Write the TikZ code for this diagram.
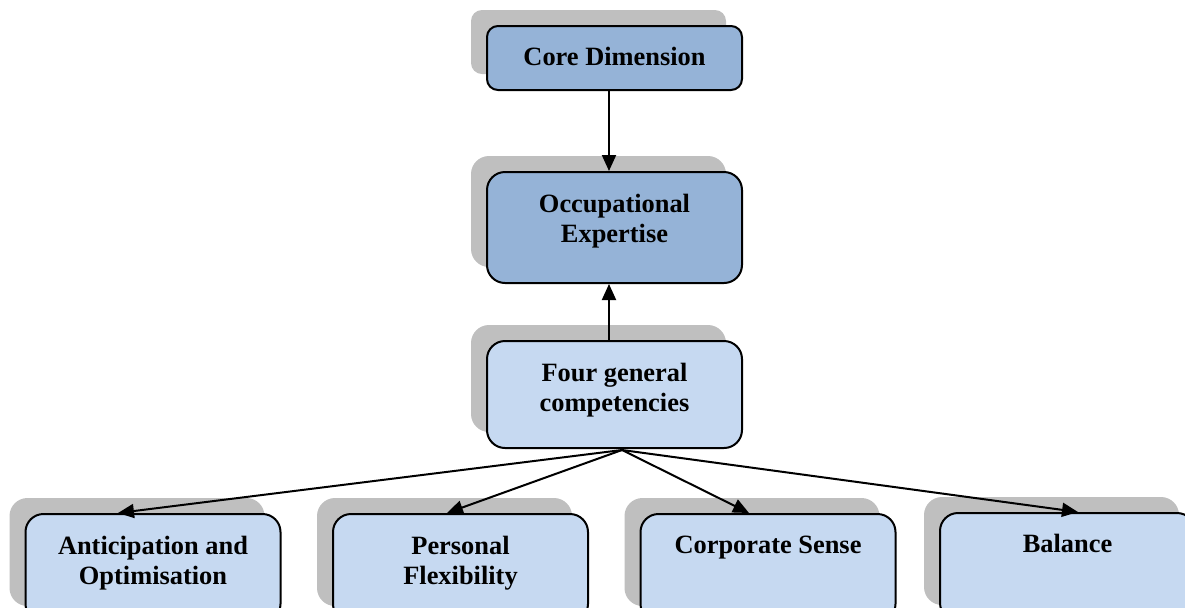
\documentclass[tikz,border=0pt]{standalone}
\usepackage{fontspec}
\setmainfont{Liberation Serif}
\usetikzlibrary{arrows.meta,shadows}

\definecolor{darkBlue}{RGB}{149,179,215}
\definecolor{lightBlue}{RGB}{198,217,241}
\definecolor{shadowGray}{RGB}{191,191,191}

\tikzset{
    dimBox/.style = {draw, line width = 1pt, rounded corners = 9pt,
        minimum width = 127.5pt, inner sep = 0pt,
        drop shadow = {shadow xshift = -8pt, shadow yshift = 8pt,
            fill = shadowGray, opacity = 1}},
    boxLabel/.style = {anchor = north, align = center, inner sep = 0pt,
        font = \fontsize{13.2}{15}\selectfont\bfseries},
    arrowLine/.style = {line width = 1pt, -{Triangle[length = 8pt, width = 7pt]}}
}

\begin{document}
\begin{tikzpicture}[x = 0.5pt, y = -0.5pt]

    \useasboundingbox (0,0) rectangle (1185,607);
    \clip (0,0) rectangle (1185,607);

    %% Upper column
    \node [dimBox, fill = darkBlue, minimum height = 32pt, rounded corners = 5.5pt]
    (coreDim) at (614.5,58) {};
    \node [boxLabel] (coreDimText) at ([yshift = -11pt]coreDim.north) {Core Dimension};

    \node [dimBox, fill = darkBlue, minimum height = 55.5pt]
    (occExpert) at (614.5,227.5) {};
    \node [boxLabel] (occExpertText) at ([yshift = -11.5pt]occExpert.north)
    {Occupational \\ Expertise};

    \node [dimBox, fill = lightBlue, minimum height = 53.5pt]
    (fourComp) at (614.5,394.5) {};
    \node [boxLabel] (fourCompText) at ([yshift = -11.5pt]fourComp.north)
    {Four general \\ competencies};

    %% Four competencies
    \node [dimBox, fill = lightBlue, minimum height = 54pt]
    (anticip) at (153,568) {};
    \node [boxLabel] (anticipText) at ([yshift = -11.5pt]anticip.north)
    {Anticipation and \\ Optimisation};

    \node [dimBox, fill = lightBlue, minimum height = 54pt]
    (persFlex) at (460.5,568) {};
    \node [boxLabel] (persFlexText) at ([yshift = -11.5pt]persFlex.north)
    {Personal \\ Flexibility};

    \node [dimBox, fill = lightBlue, minimum height = 54pt]
    (corpSense) at (768,568) {};
    \node [boxLabel] (corpSenseText) at ([yshift = -11.5pt]corpSense.north)
    {Corporate Sense};

    \node [dimBox, fill = lightBlue, minimum height = 54pt]
    (balance) at (1067.5,567) {};
    \node [boxLabel] (balanceText) at ([yshift = -11pt]balance.north)
    {Balance};

    %% Connectors
    \draw [arrowLine] ([xshift = -2.75pt]coreDim.south) -- ([xshift = -2.75pt]occExpert.north);
    \draw [arrowLine] ([xshift = -2.75pt]fourComp.north) -- ([xshift = -2.75pt]occExpert.south);

    \coordinate (fanStart) at ([xshift = 3.75pt, yshift = -0.5pt]fourComp.south);

    \draw [arrowLine] (fanStart) -- ([xshift = -17.5pt]anticip.north);
    \draw [arrowLine] (fanStart) -- ([xshift = -6.75pt]persFlex.north);
    \draw [arrowLine] (fanStart) -- ([xshift = -9.5pt]corpSense.north);
    \draw [arrowLine] (fanStart) -- ([xshift = 5.25pt]balance.north);

\end{tikzpicture}
\end{document}
